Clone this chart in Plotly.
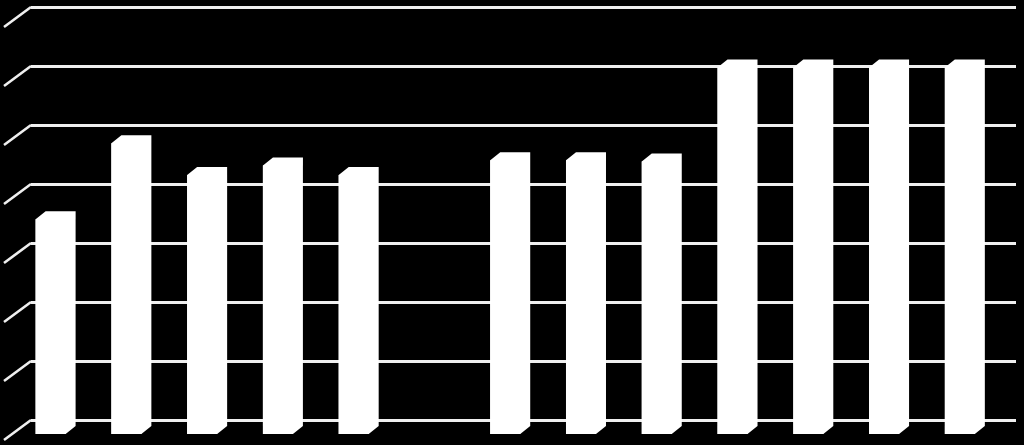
import plotly.graph_objects as go

# Data
categories = list(range(13))
values = [3.64, 4.93, 4.39, 4.55, 4.39, None, 4.64, 4.64, 4.62, 6.21, 6.21, 6.21, 6.21]
grid_ticks = [0, 1, 2, 3, 4, 5, 6, 7]

W, H = 1024, 445
SLOT = 75.77      # px per category
UNIT = 59.0       # px per value unit
BAR_PX = 30.0
DX, DY = 10.0 / SLOT, 8.0 / UNIT            # bar depth in data units
X0_PX, Y0_PX = 50.6, 434.0                  # first bar centre / bar front base
WALL_L, WALL_R, WALL_B = 31.0, 1016.0, 420.0
PAD = 0.1                                   # wall axis padding so end gridlines stay drawn
WHITE = "#ffffff"
GRID = "#efefef"
LINE_W = 2.6

fig = go.Figure()

# Back wall subplot: real axis gridlines
fig.update_layout(
    xaxis=dict(domain=[WALL_L / W, WALL_R / W], range=[0, 1], visible=True, showgrid=False,
               zeroline=False, showticklabels=False, ticks="", showline=False, anchor="y"),
    yaxis=dict(domain=[(H - WALL_B - PAD * UNIT) / H, (H - WALL_B + (7 + PAD) * UNIT) / H],
               range=[-PAD, 7 + PAD], tickmode="array", tickvals=grid_ticks, showgrid=True,
               gridcolor=GRID, gridwidth=LINE_W, zeroline=False, showticklabels=False, ticks="",
               showline=False, anchor="x"),
    # Bar subplot covers the full page
    xaxis2=dict(domain=[0, 1], range=[-X0_PX / SLOT, (W - X0_PX) / SLOT], visible=False, anchor="y2"),
    yaxis2=dict(domain=[0, 1], range=[(Y0_PX - H) / UNIT, Y0_PX / UNIT], visible=False, anchor="x2"),
    width=W, height=H, margin=dict(l=0, r=0, t=0, b=0), autosize=False,
    paper_bgcolor="#000000", plot_bgcolor="rgba(0,0,0,0)", showlegend=False,
    bargap=1 - BAR_PX / SLOT,
)

# Placeholder so the wall subplot exists
fig.add_trace(go.Scatter(x=[0, 1], y=[0, 0], mode="lines", line=dict(width=0),
                         xaxis="x", yaxis="y", hoverinfo="skip"))

# Slanted left-wall segments of the gridlines
back_dx = (WALL_L - X0_PX) / SLOT
front_dx = (4.0 - X0_PX) / SLOT
back_dy = (Y0_PX - WALL_B) / UNIT
front_dy = (Y0_PX - 440.0) / UNIT
sx, sy = [], []
for t in grid_ticks:
    sx += [front_dx, back_dx, None]
    sy += [t + front_dy, t + back_dy, None]
fig.add_trace(go.Scatter(x=sx, y=sy, mode="lines", line=dict(color=GRID, width=LINE_W),
                         xaxis="x2", yaxis="y2", hoverinfo="skip"))

# Side and top faces of the bars
half = BAR_PX / SLOT / 2
for c, v in zip(categories, values):
    if v is None:
        continue
    px_ = [c - half, c - half + DX, c + half + DX, c + half + DX, c + half, c - half]
    py_ = [v, v + DY, v + DY, DY, 0, 0]
    fig.add_trace(go.Scatter(x=px_, y=py_, mode="lines", fill="toself", fillcolor=WHITE,
                             line=dict(color=WHITE, width=0), xaxis="x2", yaxis="y2",
                             hoverinfo="skip"))

# Front faces
fig.add_trace(go.Bar(x=categories, y=values, marker=dict(color=WHITE, line=dict(width=0)),
                     xaxis="x2", yaxis="y2"))

fig.write_html("out.html", config=dict(displayModeBar=False),
               post_script="document.body.style.margin='0';document.body.style.overflow='hidden';document.body.style.background='#000';")
